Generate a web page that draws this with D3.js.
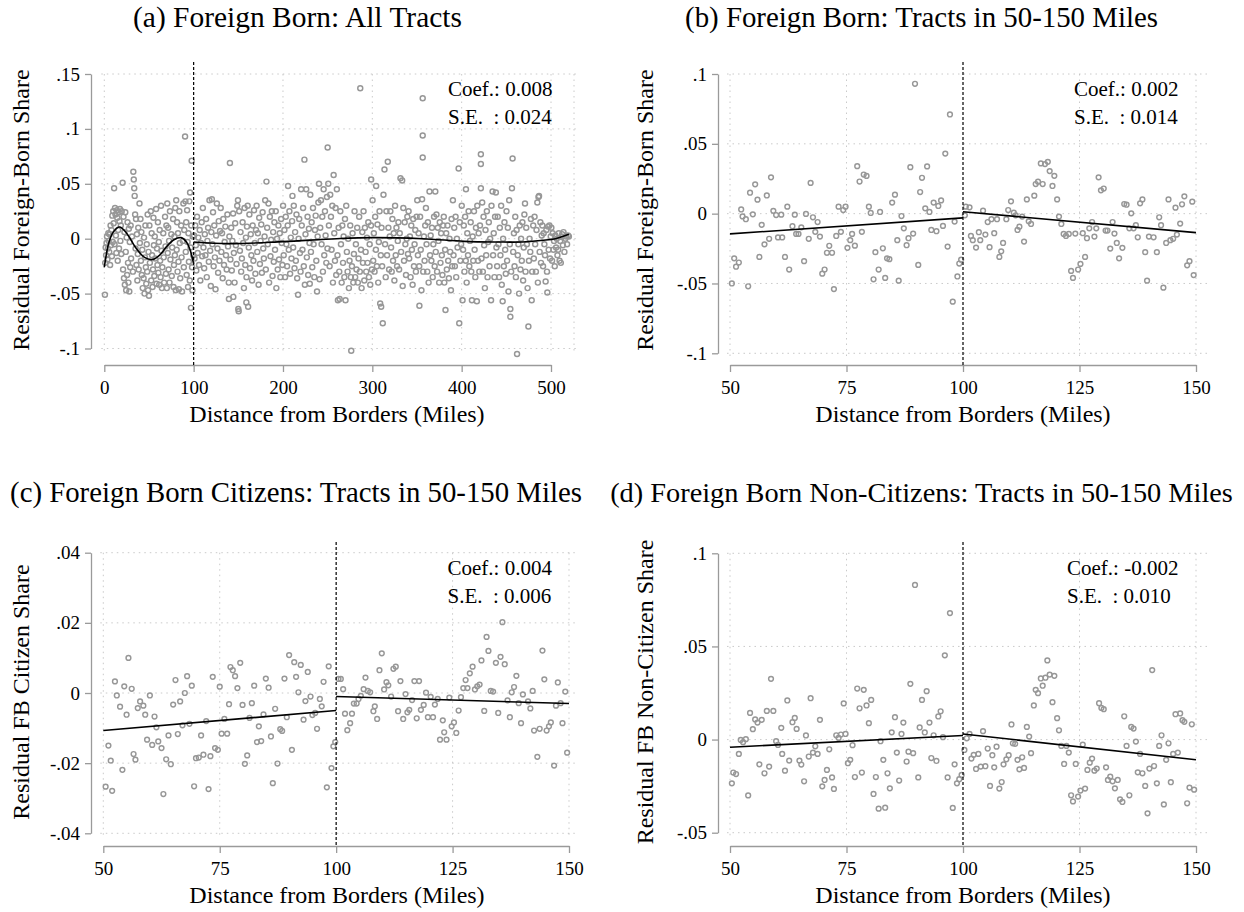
<!DOCTYPE html>
<html>
<head>
<meta charset="utf-8">
<script src="https://cdn.jsdelivr.net/npm/d3@7"></script>
<style>
  body { margin: 0; background: #fff; }
  svg text { font-family: "Liberation Serif", "Times New Roman", serif; fill: #000; }
</style>
</head>
<body>
<svg id="chart" width="1244" height="912"></svg>
<script>
// ---- data: [distance in miles, residual share] ----
const allTracts = [
[0.7,-.051],[1,-.022],[1.5,-.008],[2,-.015],[2.5,-.004],[3,.002],[3.5,-.019],[4,-.009],[4.5,.005],[5,-.002],[5.5,-.012],[6,.004],[6.5,-.024],[7,.012],[7.5,-.006],[8,.008],[8.5,-.016],[9,.021],[9.5,-.003],
[10,.025],[10.5,.014],[11,.046],[11.5,-.005],[12,.028],[12.5,.022],[13,.003],[13.5,-.013],[14,.026],[14.5,.019],[15,-.02],[15.5,.008],[16,.024],[16.5,-.009],[17,.016],[17.5,.027],[18,-.002],[18.5,.012],[19,-.014],[19.5,.025],
[20.5,.051],[21,-.028],[21.5,.02],[22,-.036],[22.5,.006],[23,-.042],[23.5,.024],[24,-.012],[24.5,-.047],[25,.001],[25.5,-.033],[26,.015],[26.5,-.022],[27,-.04],[27.5,.009],[28,-.048],[28.5,-.003],[29,-.026],[29.5,.012],
[30,-.018],[31,.002],[32,-.03],[32.5,.061],[33,.054],[33.5,.046],[34,.039],[34.5,.022],[35,-.009],[35.5,.018],[36,-.024],[36.5,.004],[37,-.038],[37.5,-.014],[38,.01],[38.5,-.028],[39.4,.032],[39.8,-.004],
[40.5,.018],[41,-.02],[41.5,.006],[42,-.033],[42.5,-.01],[43,-.045],[44,-.036],[44.5,.001],[45,-.05],[45.5,-.017],[46,.012],[46.5,-.026],[47,-.041],[47.5,-.005],[48,-.03],[48.5,.022],[49,-.047],[49.5,-.012],
[50,-.052],[50.5,.012],[51,-.022],[52,.025],[52.5,-.038],[53,.005],[53.5,-.015],[54,-.044],[54.5,-.028],[55,.019],[55.5,-.006],[56,-.034],[56.5,.002],[57,-.018],[58,.027],[58.5,-.041],[59,-.009],[59.5,-.024],
[60,.015],[60.5,-.031],[61,-.003],[61.5,-.042],[62,.008],[62.5,-.02],[63,-.035],[63.5,.03],[64,-.011],[64.5,-.045],[65,-.026],[66,.005],[66.5,-.017],[67,-.04],[68,.02],[68.5,-.007],[69,-.032],[69.5,.012],
[70,-.045],[70.5,.032],[71,-.013],[71.5,.01],[72,-.028],[72.5,-.002],[73,-.04],[73.5,.025],[74,-.019],[75,.004],[75.5,-.034],[76,-.008],[77,.018],[77.5,-.044],[78,-.024],[78.5,.002],[79,-.015],[79.5,.028],
[80,-.047],[80.5,.035],[81,-.01],[81.5,.015],[82,-.03],[82.5,.005],[83,-.021],[83.5,-.046],[84,.025],[84.5,-.004],[85,-.036],[86,.012],[86.5,-.017],[87,-.048],[88,-.002],[88.5,.032],[89,-.026],[89.5,.008],
[90.4,.093],[90.8,.034],[91.2,-.012],[91.7,.015],[92.2,-.033],[92.7,.026],[93.2,-.003],[93.7,-.044],[94.2,.005],[94.7,-.021],[95.2,.034],[95.7,-.038],[96,.042],[96.5,-.008],[97,-.063],[97.3,.012],[97.8,.071],[98.2,-.026],[98.6,-.047],[99,.002],[99.5,-.015],
[100.5,.003],[101,-.018],[101.8,.012],[102.5,-.006],[103,-.029],[103.8,.02],[104.5,-.013],[105.2,.001],[106,-.024],[106.8,.008],[107.5,-.038],[108.2,-.004],[109,.015],[109.6,-.016],
[110.3,.028],[111,-.008],[111.8,-.027],[112.5,.004],[113.2,-.015],[114,.018],[114.7,-.035],[115.4,-.002],[116.2,.01],[117,-.021],[117.7,.035],[118.5,-.011],[119.2,-.043],[119.8,.006],
[120.4,.036],[121,-.005],[121.7,.024],[122.4,-.025],[123.1,.012],[123.8,-.017],[124.5,-.046],[125.2,.003],[126,.032],[126.7,-.009],[127.4,-.031],[128.1,.016],[128.9,-.02],[129.6,.007],
[130.3,.028],[131,-.012],[131.8,.005],[132.5,-.036],[133.2,.018],[134,-.024],[134.7,-.003],[135.5,.011],[136.2,-.015],[137,-.028],[137.8,.022],[138.5,-.007],[139.3,-.04],[139.5,-.055],[140,.002],
[140.6,.069],[141.2,-.019],[142,.01],[142.7,-.029],[143.4,-.002],[144.2,.023],[144.4,-.053],[145,-.013],[145.8,-.04],[146.5,.014],[147.3,-.006],[148,-.023],[148.8,.03],[149.6,.035],
[150,-.064],[150.4,-.066],[151,.025],[151.8,-.011],[152.5,.006],[153.2,-.03],[154,-.018],[154.8,.015],[155.5,-.004],[156.3,-.045],[157,.028],[157.8,-.024],[158.5,.001],[159.2,-.035],[159.7,.011],
[159,-.058],[161,-.062],[160.5,.03],[161.7,-.008],[162.4,.022],[163.1,-.027],[163.9,.004],[164.6,-.015],[165.4,-.038],[166.1,.012],[166.9,-.02],[167.6,.026],[168.4,-.004],[169.1,-.032],[169.8,.008],
[170.5,.03],[171.2,-.012],[171.9,.005],[172.7,-.042],[173.4,.019],[174.2,-.023],[174.9,-.002],[175.7,.013],[176.4,-.031],[177.2,.024],[177.9,-.009],[178.6,-.018],[179.4,.002],
[180.1,.035],[180.8,-.028],[181.5,.052],[182.3,.01],[183,-.005],[183.8,.032],[184.5,-.04],[185.3,.02],[186,-.016],[186.8,-.001],[187.5,.025],[188.3,-.034],[189,.006],[189.7,-.021],
[190.4,.015],[191.1,-.01],[191.9,.025],[192.6,-.045],[193.4,0],[194.1,-.028],[194.9,.012],[195.6,-.019],[196.4,.005],[197.1,-.035],[197.9,.018],[198.6,-.004],[199.4,-.024],
[200.1,.03],[200.8,-.015],[201.6,.008],[202.3,-.035],[203.1,.02],[203.8,-.005],[204.6,-.025],[205.3,.012],[205.7,.048],[206.5,-.01],[207.2,.025],[208,-.032],[208.7,.001],[209.5,-.018],
[210.2,.016],[210.6,.039],[211.4,-.008],[212.1,.03],[212.9,-.027],[213.6,.006],[214.4,-.02],[215.1,.022],[215.9,-.036],[216.9,-.051],[217.5,0],[218.2,.018],[219,-.013],[219.7,-.03],
[220.3,.045],[221,.012],[221.8,-.01],[222.5,.028],[223.3,-.025],[224,.072],[224.5,-.042],[225.2,.004],[226,.045],[226.7,-.017],[227.5,.02],[228.2,-.033],[229,.009],[229.7,-.004],[230,-.041],
[230.6,.04],[231.3,-.012],[232.1,.015],[232.8,-.026],[233.6,.028],[234.3,-.005],[235.1,-.035],[235.8,.008],[236.6,.021],[237.3,-.02],[238.1,-.048],[238.8,.002],[239.6,.033],
[240.3,.05],[241,-.037],[241.7,.01],[242.5,.035],[243.2,-.005],[244,.02],[244.7,-.03],[245.5,.045],[246.2,-.015],[247,.025],[247.7,.003],[248.5,-.022],[249.2,.038],[249.8,-.009],
[250,.083],[250.7,.05],[251.4,.012],[252.2,-.025],[252.9,.04],[253.7,.02],[254.4,-.01],[255.2,.03],[255.9,-.04],[256.7,.058],[257.4,.005],[258.2,-.02],[258.9,.028],[259.6,-.033],
[260.3,.045],[261,-.015],[261.5,-.056],[262.3,.01],[263,-.03],[263.4,-.055],[264.2,.025],[264.9,-.005],[265.7,-.04],[266.4,.012],[267.2,-.022],[267.9,.002],[268.7,-.035],[269.4,.018],
[270,-.056],[270.8,.03],[271.5,-.012],[272.3,-.03],[273,0],[273.8,-.045],[274.5,-.02],[275.3,.012],[276,-.035],[276.4,-.102],[277.2,-.025],[277.9,.005],[278.7,-.04],[279.4,-.014],
[280.1,.025],[280.8,-.035],[281.6,-.005],[282.3,-.028],[283.1,.01],[283.8,-.04],[284.6,-.018],[285.3,.02],[286,-.03],[286.5,.137],[287.3,-.01],[288,-.045],[288.8,.006],[289.5,-.022],
[290.2,.025],[291,-.038],[291.7,.01],[292.5,-.012],[293.2,-.03],[294,.001],[294.7,-.022],[295.5,.015],[296.2,-.035],[297,-.005],[297.7,-.042],[298.5,.012],[298.7,.054],[299.5,-.028],
[300.3,.035],[301,-.02],[301.7,.005],[302.5,-.03],[303.2,.02],[304,-.01],[304.3,.048],[305.1,-.025],[305.8,.013],[306.6,-.04],[307.3,-.003],[308.1,.025],[308.8,-.059],[309.9,-.062],[309.5,-.015],
[310.3,.01],[311,-.025],[311.7,-.077],[312.5,.04],[313.6,.063],[314.3,-.005],[315,-.035],[315.8,.025],[316.5,-.015],[317.3,.07],[318,.01],[318.8,-.028],[319.5,.002],
[320.2,.025],[321,-.008],[321.7,-.03],[322.5,.018],[323.2,-.02],[324,.005],[324.7,-.038],[325.5,.03],[326.2,-.015],[327,.01],[327.7,-.025],[328.5,-.002],[329.2,.015],
[330,-.028],[330.7,.005],[331.5,.055],[332.2,-.012],[333.4,.053],[334,-.043],[334.7,.028],[335.5,-.02],[336.2,.015],[337,-.005],[337.7,-.033],[338.5,0],[339.2,.02],[339.9,-.014],
[340.6,.025],[341.3,-.018],[342.1,.002],[342.8,-.035],[343.6,.012],[344.3,-.01],[345.1,-.042],[345.8,.018],[346.6,-.025],[347.3,-.005],[348.1,.008],[348.8,-.03],[349.6,.02],
[350.3,.035],[351,-.015],[351.8,.005],[352.5,-.025],[352.7,-.061],[353.5,.02],[354.2,-.01],[355,-.047],[355.7,.036],[356.4,.128],[356.4,.094],[356.4,.074],[357,-.03],[357.8,.002],[358.5,-.02],[359.2,.012],
[360,.028],[360.7,-.005],[361.5,-.03],[362.2,.015],[363,-.04],[364,.043],[364.6,-.015],[365.3,.003],[366.1,-.02],[366.8,.01],[367.6,-.035],[368.3,-.005],[369.1,.02],[369.8,-.025],
[370.5,.043],[371,-.012],[371.8,.022],[372.5,-.03],[373.3,.01],[374,-.002],[374.8,-.04],[375.5,.015],[376.3,-.022],[377,.005],[377.8,-.015],[378.5,-.033],[379.3,.012],
[380,.02],[380.6,-.04],[381.5,-.01],[381.9,-.065],[382.7,.005],[383.4,-.028],[384.2,.012],[384.9,-.02],[385.7,-.036],[386.4,0],[387.2,-.012],[388,-.047],[388.7,.018],[389.4,-.025],
[390.2,.035],[390.9,-.015],[391.7,.01],[392.4,-.025],[393.2,.02],[393.9,-.035],[394.7,0],[395.4,-.008],[396.6,.064],[397.3,-.077],[397.9,.015],[398.6,-.02],[399.4,-.005],
[400.1,.03],[401,-.056],[401.6,-.01],[402.4,.012],[403.1,-.03],[403.9,.02],[404.6,-.02],[404.8,.045],[405.6,-.04],[406.3,.005],[407.1,-.015],[407.8,.025],[408.6,-.025],[409.3,-.002],
[410.1,.015],[410.8,-.03],[411.5,-.056],[412.3,.002],[413,-.02],[413.8,.025],[414.5,-.01],[415.3,-.035],[416,.01],[417,-.057],[417.5,.03],[418.3,-.02],[419,.005],[419.8,-.03],
[420.5,.012],[421.5,.077],[421.5,.068],[421.5,.046],[422.2,-.018],[423,.033],[423.7,-.03],[424.5,.02],[425.2,-.006],[426,-.045],[426.7,.008],[427.5,-.015],[428.2,.025],[429,-.035],[429.7,-.003],
[430.4,.015],[431.2,-.025],[431.9,0],[432.9,-.056],[433.4,.03],[434.6,.043],[435.2,-.015],[435.9,.005],[436.7,-.035],[437.4,.02],[438.3,.042],[438.9,-.008],[439.7,-.025],
[440.4,.02],[441.2,-.005],[441.9,-.035],[442.7,.01],[443.4,-.015],[444.2,.03],[444.9,-.042],[445.9,-.057],[446.4,0],[447.2,-.025],[447.9,.015],[448.7,-.01],[449.4,-.032],
[450.2,.025],[450.9,-.02],[451.7,.01],[452.4,-.048],[453.2,.035],[453.9,-.005],[454.5,-.064],[454.5,-.071],[455.4,-.03],[456.3,.046],[457,.073],[457.7,-.012],[458.5,.005],[459.2,-.025],
[460,.02],[460.7,-.035],[461.5,.008],[462,-.105],[462.8,-.015],[463.5,-.005],[464.3,-.05],[465,.012],[465.8,-.028],[466.5,0],[467.3,-.02],[468,.015],[468.8,-.038],[469.5,-.008],
[470.2,.022],[470.9,.032],[471.5,-.03],[472.3,.01],[473,-.005],[473.8,-.045],[474.7,-.08],[475.3,-.02],[476,0],[476.8,-.012],[477.5,.018],[478.4,-.056],[479,-.03],
[480.1,.012],[480.8,-.018],[481.6,.02],[482.3,-.005],[483.1,-.03],[483.8,.008],[484.7,.033],[485.3,-.04],[486,.038],[486.6,.039],[487.3,-.012],[488.1,.015],[488.8,-.022],[489.6,.003],
[490.3,.012],[491.1,-.025],[491.8,.005],[492.6,-.005],[493.3,-.015],[494,-.039],[494.8,.008],[495.5,-.03],[495.9,-.049],[496.7,.011],[497.4,-.01],[498.2,.012],[498.9,-.018],[499.7,.002],
[500.4,.01],[501.2,-.02],[501.9,.005],[502.7,-.01],[503.4,-.002],[504.2,-.025],[504.9,.003],[505.7,-.008],[506.4,0],[507.2,-.015],[508,-.01],[508.7,.005],[509.6,-.02],
[510.3,-.002],[511,-.022],[511.8,.0015],[512.5,.004],[513.3,-.006],[514,.006],[515,-.012],[516,0],[517,.002],[518,-.005],[519,.003],[520,.002]
];
const allFitLeft = [[0,-.026],[5,-.004],[10,.006],[17,.0106],[25,.005],[35,-.008],[45,-.017],[54,-.019],[62,-.015],[70,-.007],[78,-.001],[86,.001],[92,-.003],[96,-.010],[100,-.023]];
const allFitRight = [[100,-.003],[140,-.0045],[200,-.0027],[260,0],[300,.001],[356,0],[403,-.0024],[440,-.003],[468,-.003],[490,-.0015],[505,0],[520,.004]];

const fb50 = [
[50.4,-.050],[50.9,-.032],[51.3,-.038],[51.9,-.035],[53.9,-.052],[52.4,.003],[52.7,-.002],[53.4,-.004],[54.3,.015],[54.9,-.0005],[55.4,.021],[55.9,.010],[56.8,-.008],[56.3,-.031],[57.4,-.022],[57.9,.013],[58.4,-.018],[58.8,.026],[59.3,.002],[59.9,-.001],
[60.3,-.017],[61,-.0007],[61.2,-.017],[61.8,-.031],[62.3,.005],[62.7,-.040],[63.4,-.009],[63.9,-.0007],[64.2,-.0145],[64.7,-.0145],[65.3,-.0098],[65.9,-.034],[66.3,-.0002],[66.9,-.018],[67.3,.022],[67.8,-.0026],[68.3,-.013],[68.8,-.006],[69.3,-.0164],[69.8,-.043],
[70.3,-.040],[70.8,-.028],[71.3,-.023],[71.9,-.028],[72.3,-.054],[72.8,-.016],[73.3,.005],[73.8,-.013],[74.3,.0026],[74.8,.005],[75.2,-.0245],[75.8,-.019],[76.2,-.0145],[76.8,-.0229],[77.3,.034],[77.8,.023],[78.3,-.013],[78.7,.028],[79.3,.027],[79.8,.005],
[80.2,.0005],[81.2,-.0276],[81.9,-.040],[82.2,.0012],[82.8,-.0248],[80.8,-.047],[83.3,-.046],[83.7,-.032],[84.2,-.0326],[84.8,.0079],[85.4,.0136],[85.9,-.019],[86.2,-.048],[86.8,-.0017],[87.3,-.0105],[87.9,-.0226],[88.3,-.0176],[88.7,.0333],[89.3,-.0143],[89.7,.093],
[90.4,-.0367],[90.8,.0155],[91.2,.0257],[91.9,.0038],[92.3,.0338],[92.8,.0012],[93.2,-.0117],[93.7,.0079],[94.3,-.0126],[94.7,.0055],[95.3,.0095],[95.7,-.0088],[96.2,.043],[96.7,-.0236],[97.2,.071],[97.8,-.063],[98.2,-.0057],[98.8,-.045],[99.2,-.0357],[99.6,-.033],
[100.4,-.0012],[100.6,.005],[101.4,.0045],[101.7,-.016],[102.1,-.019],[102.8,-.0243],[103.4,-.0133],[103.7,-.019],[104.3,.0021],[104.8,-.015],[105.3,-.006],[105.7,-.024],[106.1,-.004],[106.7,-.014],[107.3,-.004],[107.8,-.031],[108.2,-.027],[108.6,-.021],[109.3,-.004],[109.7,.0026],
[110.3,.0088],[110.9,.0007],[111.3,-.0012],[111.7,-.0117],[112.1,-.0093],[112.7,-.0021],[113.1,-.020],[113.7,.0102],[114.1,-.0055],[114.6,-.0074],[115.3,.0129],[115.6,.0212],[116.1,.0229],[116.7,.036],[117.1,.0212],[117.6,.0355],[118.2,.0371],[118.6,.0305],[119.2,.0198],[119.6,.0271],
[120.2,.0102],[120.6,-.0021],[121.1,-.0074],[121.6,-.0145],[122.1,-.016],[122.7,-.0145],[123.2,-.041],[123.6,-.046],[124.1,-.0143],[124.7,-.040],[125.2,-.036],[125.7,-.014],[126.2,-.031],[126.6,-.0176],[127.1,-.0105],[127.7,-.006],[128.2,-.0164],[128.6,-.0105],[129.1,.026],[129.6,.0167],
[130.2,.018],[130.6,-.0121],[131,-.0121],[131.6,-.025],[132.1,-.006],[132.5,-.0143],[133,-.021],[133.5,-.032],[134.2,-.0245],[134.6,.0069],[135.1,.0064],[136.1,.0002],[135.7,-.0105],[136.6,-.0105],[137.1,-.0083],[137.5,-.0169],[138,.0074],[138.5,.0102],[139.1,-.0276],[139.5,-.048],[139.9,-.0164],
[140.9,-.0169],[141.6,-.0276],[142.1,-.0026],[142.5,-.0083],[143,-.053],[143.6,-.021],[144.1,.0102],[144.5,-.019],[145.1,-.018],[145.6,.0043],[145.9,-.015],[146.6,-.0071],[147,.0067],[147.5,.0124],[148.1,-.037],[148.6,-.034],[149.2,.0086],[149.5,-.044]
];
const fb50FitLeft = [[50,-.0145],[100,-.003]];
const fb50FitRight = [[100,.0014],[150,-.0136]];

const citizen50 = [
[50.5,-.0267],[51.1,-.015],[51.6,-.0193],[51.9,-.0279],[52.5,.0033],[52.9,-.0007],[53.6,-.0039],[54.1,-.0219],[54.5,.0019],[55,-.0062],[55.4,.01],[56.1,.0012],[56.5,-.0174],[56.9,-.019],[57.4,-.0043],[57.9,-.0024],[58.6,-.0036],[59,-.0062],[59.4,-.0133],
[60,-.0007],[60.5,-.0148],[61,-.0067],[61.4,-.0098],[61.8,-.0138],[62.5,-.0157],[62.9,-.0288],[63.5,-.0189],[64,-.0121],[64.5,-.0203],[65,-.0033],[65.5,.0037],[66,-.0117],[66.5,-.0024],[67,-.0092],[67.5,0],[68,.0048],[68.5,-.0088],[69,.0021],[69.5,-.0266],[69.9,-.0186],
[70.5,-.0184],[71,-.0121],[71.5,-.0176],[72.1,-.008],[72.6,-.0274],[73,-.018],[73.5,.0046],[74,-.0157],[74.6,-.0162],[75,.0018],[75.4,-.0116],[76,-.0074],[76.6,-.0116],[77,-.0032],[77.3,.0074],[77.8,.0065],[78.3,.0048],[78.8,.0014],[79.4,.0086],[79.9,-.0034],
[80.4,-.0202],[80.9,-.0178],[81.4,-.0071],[81.9,-.0029],[82.4,.0021],[83,-.014],[83.4,-.0095],[83.9,-.0137],[84.4,-.0061],[84.9,.0041],[85.5,.0015],[86,-.0124],[86.4,-.0257],[86.9,-.0045],[87.4,-.0201],[88,-.0103],[88.4,-.0108],[88.9,.0041],[89.4,-.0069],[89.9,.0108],
[90.5,-.0162],[91,.0088],[91.4,.0046],[91.9,.0002],[92.4,.008],[93,-.0076],[93.4,-.0023],[93.9,.006],[94.5,-.001],[94.9,-.0063],[95.5,-.0057],[95.9,-.0102],[96.5,-.0017],[96.9,-.0038],[97.3,.0032],[98,-.0269],[98.4,.0076],[99,-.0214],[99.4,-.0152],[99.8,-.014],
[100.5,.004],[101,.004],[101.5,.0011],[101.9,-.0059],[102.4,-.0106],[103,-.0086],[103.4,-.0059],[103.8,-.003],[104.4,-.003],[104.8,-.0017],[105.3,-.0008],[105.9,.0011],[106.3,.0044],[106.8,.0006],[107.3,.0002],[108,-.0052],[108.3,-.0038],[108.8,-.0074],[109.3,.0065],[109.8,.0113],
[110.3,.001],[110.8,.0031],[111.2,.0022],[111.8,-.001],[112.3,.0069],[112.8,.0075],[113.3,-.0052],[113.8,.0034],[114.4,-.0074],[114.9,-.0003],[115.3,-.0055],[115.7,-.0048],[116.3,-.002],[116.8,.0034],[117.3,-.0072],[117.8,.0034],[118.2,-.0048],[118.8,-.0034],[119.3,.0001],[119.7,-.0069],
[120.3,-.0011],[120.8,-.0069],[121.2,-.0033],[121.8,-.0017],[122.3,-.0133],[122.9,-.0078],[123.2,-.0112],[123.7,-.0133],[124.3,-.0013],[124.8,-.0095],[125.3,-.0084],[125.8,-.0114],[126.3,-.005],[126.8,-.0012],[127.3,.0014],[127.8,.0037],[128.2,.0014],[128.7,.0056],[129.3,.0075],[129.8,.001],
[130.3,.0019],[130.8,.0024],[131.2,.0093],[131.8,-.0051],[132.3,.016],[132.7,.012],[133.2,.0006],[133.7,.0004],[134.3,.0086],[134.8,-.0057],[135.3,.0103],[135.7,.0202],[136.2,.0082],[136.8,-.0021],[137.3,-.0069],[137.7,.0002],[138.2,.0017],[138.7,.0049],[139.2,-.0029],[139.7,-.0086],
[140.1,-.0004],[141.2,-.0024],[141.7,-.0044],[142.2,.0006],[142.5,-.0107],[143.2,-.0182],[143.7,-.0102],[144.3,.0121],[144.7,.0039],[145.2,-.0107],[145.7,-.0095],[146.1,-.0084],[146.8,-.0207],[147.2,-.0036],[147.6,.003],[148.2,-.0029],[148.6,-.0086],[149.2,.0004],[149.6,-.017]
];
const citizen50FitLeft = [[50,-.0107],[100,-.005]];
const citizen50FitRight = [[100,-.001],[150,-.003]];

const nonCitizen50 = [
[50.4,-.0235],[50.7,-.0177],[51.3,-.0185],[51.9,-.0077],[52.3,-.0002],[52.8,-.0014],[53.4,.0002],[53.9,-.030],[54.3,.0143],[54.9,.0056],[55.4,.0108],[55.9,.0091],[56.8,.0106],[56.3,-.0133],[57.4,-.0181],[57.9,.0154],[58.4,-.0145],[58.8,.0326],[59.3,.0154],[59.9,-.0009],
[60.3,-.0029],[61,.0063],[61.2,-.0077],[61.8,-.0167],[62.3,.021],[62.7,-.0113],[63.4,.0093],[63.9,.0116],[64.3,.0057],[64.9,-.0113],[65.3,-.0134],[65.9,-.0224],[66.3,.0022],[66.9,-.0091],[67.3,.0222],[67.8,-.007],[68.3,-.0036],[68.8,-.0077],[69.3,.0106],[69.8,-.0251],
[70.3,-.0217],[70.8,-.0163],[71.3,-.0052],[71.9,-.0203],[72.3,-.0265],[72.8,.0023],[73.3,.0009],[73.8,.0027],[74.4,.0194],[74.8,.003],[75.3,-.0127],[75.8,-.0109],[76.3,-.003],[76.8,-.0201],[77.3,.0274],[77.8,.0168],[78.3,-.0177],[78.7,.0267],[79.3,.0183],[79.8,.0088],
[80.3,.0213],[80.8,-.0292],[81.3,-.0201],[81.9,-.0371],[82.3,-.0009],[82.9,-.0109],[83.3,-.0366],[83.8,-.0181],[84.3,-.0262],[84.7,.0039],[85.4,.012],[85.8,-.007],[86.3,-.022],[86.8,.003],[87.2,.0091],[87.9,-.0118],[88.3,-.0065],[88.7,.0299],[89.3,-.0073],[89.7,.083],
[90.4,-.0203],[90.7,.0065],[91.2,.0213],[91.8,.0038],[92.2,.026],[92.8,.0091],[93.2,-.0099],[93.7,.0023],[94.3,-.0115],[94.7,.0124],[95.2,.0152],[95.7,.0013],[96.1,.0452],[96.7,-.0203],[97.2,.0679],[97.8,-.0367],[98.2,-.0133],[98.7,-.0235],[99.2,-.0213],[99.7,-.019],
[100.3,-.0056],[100.8,.0007],[101.4,.003],[101.8,-.0102],[102.3,-.0082],[103.3,-.0077],[102.8,-.0158],[103.8,-.0145],[104.3,.0045],[104.8,-.0143],[105.3,-.0048],[105.8,-.0249],[106.3,-.0084],[106.7,-.0149],[107.2,-.0038],[107.8,-.0263],[108.3,-.0228],[108.7,-.0133],[109.3,-.0106],[109.8,-.0084],
[110.4,.0081],[110.7,-.002],[111.2,-.0023],[111.7,-.0109],[112.1,-.016],[112.7,-.0095],[113.1,-.0152],[113.7,.0068],[114.2,.0016],[114.6,-.0073],[115.2,.0183],[115.6,.0267],[116.1,.0249],[116.7,.0328],[117.1,.0289],[117.7,.0332],[118.1,.0425],[118.6,.0349],[119.2,.0201],[119.6,.0342],
[120.2,.0115],[120.6,.005],[121.1,-.0034],[121.7,-.0131],[122.2,-.0034],[122.7,-.007],[123.2,-.0299],[123.6,-.0332],[124.2,-.0131],[124.7,-.0306],[125.2,-.0274],[125.7,-.0027],[126.2,-.0263],[126.7,-.0163],[127.2,-.0124],[127.7,-.0102],[128.2,-.0167],[128.7,-.0156],[129.2,.0195],[129.7,.017],
[130.2,.0163],[130.7,-.0149],[131.1,-.0217],[131.6,-.0199],[132.1,-.0224],[132.6,-.0262],[133.2,-.0217],[133.7,-.0321],[134.2,-.0335],[134.6,.0125],[135.1,-.0034],[135.7,-.0299],[136.1,.0068],[136.6,.0059],[137.1,-.0011],[137.5,-.0176],[138,-.0077],[138.5,-.0181],[139.1,-.0249],[139.6,-.0396],
[140,-.0156],[140.6,.0373],[141,-.0142],[141.6,-.0235],[142.1,-.0034],[142.6,.0023],[143.1,-.0348],[143.6,-.0109],[144.1,-.002],[144.6,-.0229],[145.1,-.0077],[145.6,.0136],[146.1,-.007],[146.6,.014],[147.1,.0104],[147.5,.0095],[148.1,-.0342],[148.6,-.0258],[149.1,.0082],[149.6,-.0269]
];
const nonCitizen50FitLeft = [[50,-.0041],[100,.0022]];
const nonCitizen50FitRight = [[100,.003],[150,-.0108]];

const xTicksAll = [0, 100, 200, 300, 400, 500];
const xTicks50 = [50, 75, 100, 125, 150];
const yTicksA = [-.1, -.05, 0, .05, .1, .15];
const yTicksB = [-.1, -.05, 0, .05, .1];
const yTicksC = [-.04, -.02, 0, .02, .04];
const yTicksD = [-.05, 0, .05, .1];

const panelTitles = ["(a) Foreign Born: All Tracts", "(b) Foreign Born: Tracts in 50-150 Miles",
  "(c) Foreign Born Citizens: Tracts in 50-150 Miles", "(d) Foreign Born Non-Citizens: Tracts in 50-150 Miles"];
const yTitles = ["Residual Foreign-Born Share", "Residual Foreign-Born Share",
  "Residual FB Citizen Share", "Residual FB Non-Citizen Share"];
const coefs = ["0.008", "0.002", "0.004", "-0.002"];
const ses = ["0.024", "0.014", "0.006", "0.010"];
const xTitle = "Distance from Borders (Miles)";
const cutoff = 100;

// ---- layout ----
const svg = d3.select("#chart");

const panels = [
  {data: allTracts, fitL: allFitLeft, fitR: allFitRight, smooth: true,
   xDom: [0, 500], xRange: [104.3, 551], yDom: [-.1, .15], yRange: [348.5, 74],
   xTicks: xTicksAll, yTicks: yTicksA, axisX: 91, axisY: 365, top: 62, right: 577, edge: 574,
   titleX: 297.5, titleY: 27, titleW: 329, xTitleX: 337, yTitleX: 21, yTitleY: 210, noteX: 448, noteY: 96, r: 2.5},
  {data: fb50, fitL: fb50FitLeft, fitR: fb50FitRight,
   xDom: [50, 150], xRange: [730, 1196], yDom: [-.1, .1], yRange: [353.3, 74],
   xTicks: xTicks50, yTicks: yTicksB, axisX: 718, axisY: 365, top: 62, right: 1208,
   titleX: 921.5, titleY: 27, titleW: 473, xTitleX: 963, yTitleX: 645, yTitleY: 210, noteX: 1074, noteY: 96, r: 2.4},
  {data: citizen50, fitL: citizen50FitLeft, fitR: citizen50FitRight,
   xDom: [50, 150], xRange: [103.3, 569], yDom: [-.04, .04], yRange: [833.3, 552.7],
   xTicks: xTicks50, yTicks: yTicksC, axisX: 91, axisY: 846, top: 542, right: 576,
   titleX: 296, titleY: 502, titleW: 572, xTitleX: 337, yTitleX: 21, yTitleY: 692, noteX: 447.5, noteY: 575, r: 2.4},
  {data: nonCitizen50, fitL: nonCitizen50FitLeft, fitR: nonCitizen50FitRight,
   xDom: [50, 150], xRange: [730, 1196], yDom: [-.05, .1], yRange: [832.7, 553.3],
   xTicks: xTicks50, yTicks: yTicksD, axisX: 718, axisY: 846, top: 542, right: 1208,
   titleX: 921.5, titleY: 502, titleW: 623, xTitleX: 963, yTitleX: 645, yTitleY: 692, noteX: 1067, noteY: 575, r: 2.4}
];

function fmt(v) {
  if (v === 0) return "0";
  return String(+v.toFixed(3)).replace("0.", ".");
}

function drawPanel(p, i) {
  const x = d3.scaleLinear().domain(p.xDom).range(p.xRange);
  const y = d3.scaleLinear().domain(p.yDom).range(p.yRange);
  const g = svg.append("g");

  // grid
  const grid = g.append("g").attr("stroke", "#c4c4c4").attr("stroke-width", 0.9)
    .attr("stroke-dasharray", "1.5,4").attr("fill", "none");
  grid.selectAll(".h").data(p.yTicks).enter().append("line")
    .attr("x1", p.xRange[0] - 3).attr("x2", p.right)
    .attr("y1", d => y(d)).attr("y2", d => y(d));
  grid.selectAll(".v").data(p.xTicks.filter(d => d !== cutoff)).enter().append("line")
    .attr("x1", d => x(d)).attr("x2", d => x(d))
    .attr("y1", p.yRange[1]).attr("y2", p.yRange[0] + 4);
  if (p.edge) {
    grid.append("line").attr("x1", p.edge).attr("x2", p.edge)
      .attr("y1", p.yRange[1]).attr("y2", p.yRange[0] + 4);
  }

  // axes
  const yAxis = g.append("g").attr("transform", `translate(${p.axisX},0)`)
    .call(d3.axisLeft(y).tickValues(p.yTicks).tickFormat(fmt).tickSize(6).tickSizeOuter(0).tickPadding(5));
  const xAxis = g.append("g").attr("transform", `translate(0,${p.axisY})`)
    .call(d3.axisBottom(x).tickValues(p.xTicks).tickFormat(d3.format("d")).tickSize(7).tickSizeOuter(0).tickPadding(9));
  [yAxis, xAxis].forEach(a => {
    a.attr("font-family", null).attr("font-size", null);
    a.select(".domain").attr("stroke", "#9a9a9a").attr("stroke-width", 1.3);
    a.selectAll(".tick line").attr("stroke", "#9a9a9a").attr("stroke-width", 1.3);
    a.selectAll(".tick text").attr("font-size", 19).attr("fill", "#000");
  });

  // points
  g.append("g").selectAll("circle").data(p.data).enter().append("circle")
    .attr("cx", d => x(d[0])).attr("cy", d => y(d[1])).attr("r", p.r)
    .attr("fill", "none").attr("stroke", "#979797").attr("stroke-width", 1.45);

  // fitted lines on each side of the cutoff
  const line = d3.line().x(d => x(d[0])).y(d => y(d[1]));
  if (p.smooth) line.curve(d3.curveCatmullRom.alpha(0.5));
  [p.fitL, p.fitR].forEach(f => {
    g.append("path").datum(f).attr("d", line)
      .attr("fill", "none").attr("stroke", "#000").attr("stroke-width", 1.6);
  });

  // cutoff
  g.append("line").attr("x1", x(cutoff)).attr("x2", x(cutoff))
    .attr("y1", p.top).attr("y2", p.axisY)
    .attr("stroke", "#000").attr("stroke-width", 1.2).attr("stroke-dasharray", "3,2");

  // text
  const t = g.append("text").attr("x", p.titleX).attr("y", p.titleY)
    .attr("text-anchor", "middle").attr("font-size", 24).text(panelTitles[i]);
  const w = t.node().getComputedTextLength();
  t.attr("font-size", 24 * p.titleW / w);

  g.append("text").attr("x", p.xTitleX).attr("y", p.axisY + 57)
    .attr("text-anchor", "middle").attr("font-size", 24).text(xTitle);
  g.append("text").attr("transform", `translate(${p.yTitleX + 8},${p.yTitleY}) rotate(-90)`)
    .attr("text-anchor", "middle").attr("font-size", 24).text(yTitles[i]);

  g.append("text").attr("x", p.noteX).attr("y", p.noteY).attr("font-size", 21)
    .text("Coef.: " + coefs[i]);
  g.append("text").attr("x", p.noteX).attr("y", p.noteY + 27.5).attr("font-size", 21)
    .style("white-space", "pre").text("S.E.  : " + ses[i]);
}

panels.forEach(drawPanel);
</script>
</body>
</html>
